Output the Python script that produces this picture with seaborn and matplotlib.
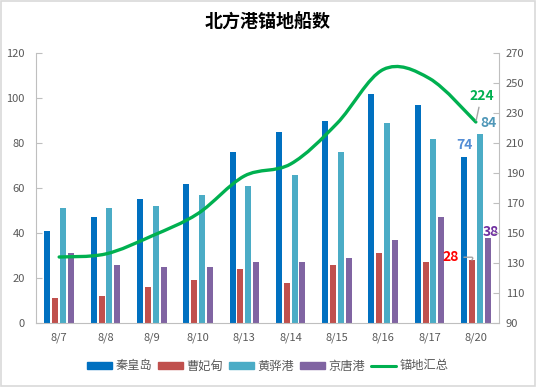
import matplotlib
matplotlib.use("Agg")
import matplotlib.pyplot as plt
from matplotlib.path import Path
from matplotlib.patches import PathPatch, Rectangle
from matplotlib.lines import Line2D
import seaborn as sns
import pandas as pd

dates = ["8/7", "8/8", "8/9", "8/10", "8/13", "8/14", "8/15", "8/16", "8/17", "8/20"]
ports = ["秦皇岛", "曹妃甸", "黄骅港", "京唐港"]
qinhuangdao = [41, 47, 55, 62, 76, 85, 90, 102, 97, 74]
caofeidian = [11, 12, 16, 19, 24, 18, 26, 31, 27, 28]
huanghua = [51, 51, 52, 57, 61, 66, 76, 89, 82, 84]
jingtang = [31, 26, 25, 25, 27, 27, 29, 37, 47, 38]
total = [134, 136, 148, 163, 188, 196, 223, 259, 253, 224]
total_name = "锚地汇总"

colors = ["#0070C0", "#C0504D", "#4BACC6", "#8064A2"]
line_color = "#00B050"
grey = "#595959"

rows = []
for port, vals in zip(ports, [qinhuangdao, caofeidian, huanghua, jingtang]):
    for d, v in zip(dates, vals):
        rows.append({"date": d, "port": port, "count": v})
df = pd.DataFrame(rows)

sns.set_style("white")
plt.rcParams["font.family"] = ["Noto Sans CJK SC", "DejaVu Sans"]

fig = plt.figure(figsize=(5.36, 3.87), dpi=100)
ax = fig.add_axes([36 / 536, 64 / 387, 463 / 536, 270 / 387])

sns.barplot(data=df, x="date", y="count", hue="port", hue_order=ports,
            palette=colors, width=0.68, gap=0.235, ax=ax, legend=False,
            saturation=1, edgecolor="none")

ax.set_xlim(-0.5, len(dates) - 0.5)
ax.set_ylim(0, 120)
ax.set_yticks(range(0, 121, 20))
ax.set_xlabel("")
ax.set_ylabel("")

ax2 = ax.twinx()
ax2.set_ylim(90, 270)
ax2.set_yticks(range(90, 271, 20))

# smoothed total line (bezier through the points, like Excel's smooth line)
xs = list(range(len(total)))
pts = list(zip(xs, total))
verts = [pts[0]]
codes = [Path.MOVETO]
n = len(pts)
for i in range(n - 1):
    p0 = pts[i - 1] if i > 0 else pts[i]
    p1 = pts[i]
    p2 = pts[i + 1]
    p3 = pts[i + 2] if i + 2 < n else pts[i + 1]
    c1 = (p1[0] + (p2[0] - p0[0]) / 6, p1[1] + (p2[1] - p0[1]) / 6)
    c2 = (p2[0] - (p3[0] - p1[0]) / 6, p2[1] - (p3[1] - p1[1]) / 6)
    verts += [c1, c2, p2]
    codes += [Path.CURVE4] * 3
ax2.add_patch(PathPatch(Path(verts, codes), facecolor="none",
                        edgecolor=line_color, lw=2.4, capstyle="round"))

for a in (ax, ax2):
    for s in a.spines.values():
        s.set_visible(False)
    a.tick_params(colors=grey, labelsize=8, length=0)
    a.grid(False)
ax.spines["bottom"].set_visible(True)
ax.spines["bottom"].set_color("#BFBFBF")
ax.spines["left"].set_visible(True)
ax.spines["left"].set_color("#BFBFBF")
ax2.spines["right"].set_visible(True)
ax2.spines["right"].set_color("#BFBFBF")
ax.tick_params(axis="y", direction="in", length=4, width=0.8, color="#BFBFBF", pad=8)
ax2.tick_params(axis="y", direction="in", length=4, width=0.8, color="#BFBFBF", pad=5)
ax.tick_params(axis="x", pad=7)

# data labels on the last category
last = len(dates) - 1
bb = [ax.containers[i][last] for i in range(4)]
def top(b):
    return (b.get_x() + b.get_width() / 2, b.get_height())

ax.annotate(str(qinhuangdao[last]), top(bb[0]), xytext=(0, 3), textcoords="offset points",
            ha="center", va="bottom", color="#558ED5", fontsize=10, fontweight="bold")
ax.annotate(str(huanghua[last]), top(bb[2]), xytext=(6, 3), textcoords="offset points",
            ha="center", va="bottom", color="#4F97B8", fontsize=10, fontweight="bold")
ax.annotate(str(jingtang[last]), top(bb[3]), xytext=(2, -1), textcoords="offset points",
            ha="center", va="bottom", color="#7030A0", fontsize=10, fontweight="bold")
ax.annotate(str(caofeidian[last]), top(bb[1]), xytext=(-15, 2), textcoords="offset points",
            ha="center", va="center", color="#FF0000", fontsize=10, fontweight="bold",
            arrowprops=dict(arrowstyle="-", color="#A6A6A6", lw=1,
                            shrinkA=1, shrinkB=0,
                            connectionstyle="angle,angleA=0,angleB=60,rad=2"))
ax2.annotate(str(total[last]), (last, total[last]), xytext=(4, 19), textcoords="offset points",
             ha="center", va="center", color=line_color, fontsize=10, fontweight="bold",
             arrowprops=dict(arrowstyle="-", color="#A6A6A6", lw=1, shrinkA=1, shrinkB=1))

fig.text(0.5, 1 - 22 / 387, "北方港锚地船数", ha="center", va="center",
         fontsize=13, fontweight="bold", color="black")

handles = [Rectangle((0, 0), 1, 1, color=c) for c in colors]
handles.append(Line2D([0], [0], color=line_color, lw=2.2))
fig.legend(handles, ports + [total_name], loc="center", bbox_to_anchor=(0.5, 1 - 366 / 387),
           ncol=5, frameon=False, fontsize=8.8, labelcolor=grey, handlelength=2.0,
           handleheight=0.5, handletextpad=0.3, columnspacing=0.5)

fig.patches.append(Rectangle((0.002, 0.003), 0.996, 0.994, transform=fig.transFigure,
                             fill=False, edgecolor="#D9D9D9", lw=1.2))

fig.savefig("out.png", dpi=100)
